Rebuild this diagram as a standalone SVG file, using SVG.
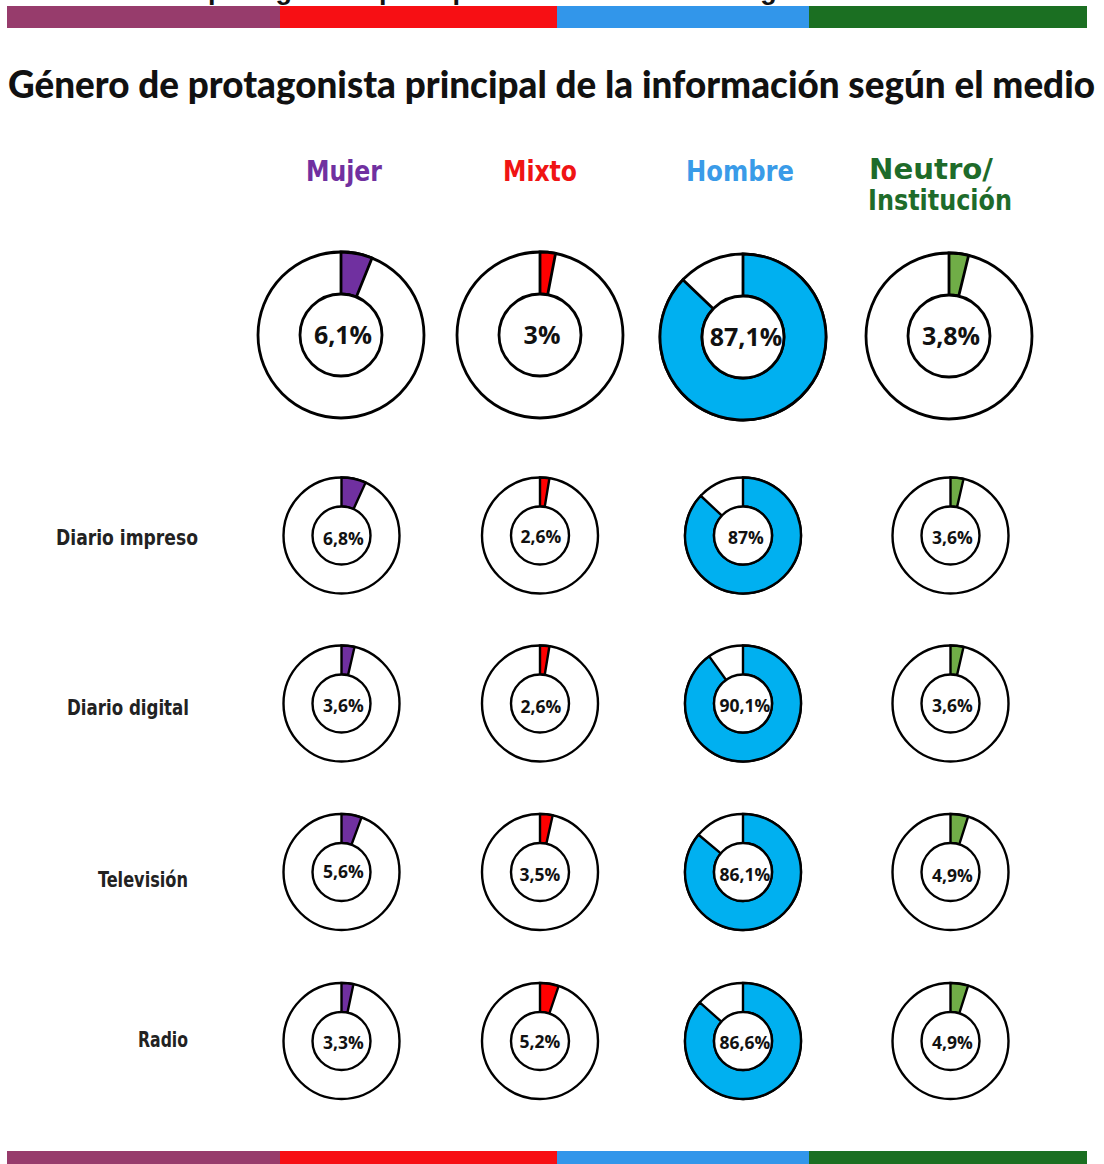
<svg xmlns="http://www.w3.org/2000/svg" width="1104" height="1164" viewBox="0 0 1104 1164">
<style>
.bg{fill:#fff}
.ring{fill:#fff;stroke:#000}
.L .ring,.L .w{stroke-width:2.8}
.S .ring,.S .w{stroke-width:2.4}
.w{stroke:#000;stroke-linejoin:miter}
.wm{fill:#7030A0}
.wx{fill:#FF0000}
.wh{fill:#00B0F0}
.wn{fill:#70AD47}
.pct{font-family:"Open Sans","Liberation Sans",sans-serif;font-weight:700;text-anchor:middle;fill:#111}
.L .pct{font-size:25px}
.S .pct{font-size:17.5px}
.hdr{font-family:"Liberation Sans Narrow","DejaVu Sans Condensed","Liberation Sans",sans-serif;font-weight:700;font-size:28px}
.row{font-family:"DejaVu Sans Condensed","Liberation Sans Narrow","Liberation Sans",sans-serif;font-weight:700;font-size:21px;fill:#222}
.title{font-family:Lato,"Noto Sans","Liberation Sans",sans-serif;font-weight:900;font-size:37px;fill:#111}
.cut{font-family:"Liberation Sans",Arial,sans-serif;font-weight:700;font-size:27px;fill:#111}
</style>
<rect class="bg" x="0" y="0" width="1104" height="1164"/>

<g id="top-cut-title">
<text class="cut" x="67" y="-1.5">Género de protagonista principal de la información según el medio</text>
</g>

<g id="top-bar">
<rect x="7" y="6" width="274" height="22" fill="#973C6C"/>
<rect x="280" y="6" width="278" height="22" fill="#F70F14"/>
<rect x="557" y="6" width="253" height="22" fill="#3296EA"/>
<rect x="809" y="6" width="278" height="22" fill="#1B6F22"/>
</g>

<g id="title">
<text class="title" x="8" y="98" textLength="1087" lengthAdjust="spacingAndGlyphs">Género de protagonista principal de la información según el medio</text>
</g>

<g id="headers">
<text class="hdr" x="306" y="181" fill="#7030A0" textLength="76" lengthAdjust="spacingAndGlyphs">Mujer</text>
<text class="hdr" x="503" y="181" fill="#F01414" textLength="74" lengthAdjust="spacingAndGlyphs">Mixto</text>
<text class="hdr" x="686" y="181" fill="#3A9BE8" textLength="108" lengthAdjust="spacingAndGlyphs">Hombre</text>
<text class="hdr" x="869" y="179" fill="#1E6B2A" textLength="124" lengthAdjust="spacingAndGlyphs">Neutro/</text>
<text class="hdr" x="868" y="210" fill="#1E6B2A" textLength="144" lengthAdjust="spacingAndGlyphs">Institución</text>
</g>

<g id="row-labels">
<text class="row" x="56" y="545" textLength="142" lengthAdjust="spacingAndGlyphs">Diario impreso</text>
<text class="row" x="67" y="715" textLength="122" lengthAdjust="spacingAndGlyphs">Diario digital</text>
<text class="row" x="98" y="887" textLength="90" lengthAdjust="spacingAndGlyphs">Televisión</text>
<text class="row" x="138" y="1047" textLength="50" lengthAdjust="spacingAndGlyphs">Radio</text>
</g>

<g id="connectors"></g>

<!-- Total row (large) -->
<g id="total-mujer" class="L" transform="translate(341,335)">
<circle class="ring" r="83"/>
<path class="w wm" d="M0,-83 A83,83 0 0 1 31.04,-76.97 L15.33,-38.02 A41,41 0 0 0 0,-41 Z"/>
<circle class="ring" r="41"/>
<text class="pct" x="2" y="9">6,1%</text>
</g>
<g id="total-mixto" class="L" transform="translate(540,335)">
<circle class="ring" r="83"/>
<path class="w wx" d="M0,-83 A83,83 0 0 1 15.55,-81.53 L7.68,-40.27 A41,41 0 0 0 0,-41 Z"/>
<circle class="ring" r="41"/>
<text class="pct" x="2" y="9">3%</text>
</g>
<g id="total-hombre" class="L" transform="translate(743,337)">
<circle class="ring" r="83"/>
<path class="w wh" d="M0,-83 A83,83 0 1 1 -60.12,-57.23 L-29.70,-28.27 A41,41 0 1 0 0,-41 Z"/>
<circle class="ring" r="41"/>
<text class="pct" x="3" y="9">87,1%</text>
</g>
<g id="total-neutro" class="L" transform="translate(949,336)">
<circle class="ring" r="83"/>
<path class="w wn" d="M0,-83 A83,83 0 0 1 19.63,-80.64 L9.70,-39.84 A41,41 0 0 0 0,-41 Z"/>
<circle class="ring" r="41"/>
<text class="pct" x="2" y="9">3,8%</text>
</g>

<!-- Diario impreso -->
<g id="impreso-mujer" class="S" transform="translate(341.5,535.5)">
<circle class="ring" r="58"/>
<path class="w wm" d="M0,-58 A58,58 0 0 1 24.04,-52.79 L12.02,-26.39 A29,29 0 0 0 0,-29 Z"/>
<circle class="ring" r="29"/>
<text class="pct" x="2" y="9">6,8%</text>
</g>
<g id="impreso-mixto" class="S" transform="translate(540,535.5)">
<circle class="ring" r="58"/>
<path class="w wx" d="M0,-58 A58,58 0 0 1 9.43,-57.23 L4.72,-28.61 A29,29 0 0 0 0,-29 Z"/>
<circle class="ring" r="29"/>
<text class="pct" x="1" y="7">2,6%</text>
</g>
<g id="impreso-hombre" class="S" transform="translate(743,535.5)">
<circle class="ring" r="58"/>
<path class="w wh" d="M0,-58 A58,58 0 1 1 -42.28,-39.70 L-21.14,-19.85 A29,29 0 1 0 0,-29 Z"/>
<circle class="ring" r="29"/>
<text class="pct" x="3" y="8">87%</text>
</g>
<g id="impreso-neutro" class="S" transform="translate(950.5,535.5)">
<circle class="ring" r="58"/>
<path class="w wn" d="M0,-58 A58,58 0 0 1 13.01,-56.52 L6.50,-28.26 A29,29 0 0 0 0,-29 Z"/>
<circle class="ring" r="29"/>
<text class="pct" x="2" y="8">3,6%</text>
</g>

<!-- Diario digital -->
<g id="digital-mujer" class="S" transform="translate(341.5,703.5)">
<circle class="ring" r="58"/>
<path class="w wm" d="M0,-58 A58,58 0 0 1 13.01,-56.52 L6.50,-28.26 A29,29 0 0 0 0,-29 Z"/>
<circle class="ring" r="29"/>
<text class="pct" x="2" y="8">3,6%</text>
</g>
<g id="digital-mixto" class="S" transform="translate(540,703.5)">
<circle class="ring" r="58"/>
<path class="w wx" d="M0,-58 A58,58 0 0 1 9.43,-57.23 L4.72,-28.61 A29,29 0 0 0 0,-29 Z"/>
<circle class="ring" r="29"/>
<text class="pct" x="1" y="9">2,6%</text>
</g>
<g id="digital-hombre" class="S" transform="translate(743,703.5)">
<circle class="ring" r="58"/>
<path class="w wh" d="M0,-58 A58,58 0 1 1 -33.80,-47.13 L-16.90,-23.57 A29,29 0 1 0 0,-29 Z"/>
<circle class="ring" r="29"/>
<text class="pct" x="2" y="8">90,1%</text>
</g>
<g id="digital-neutro" class="S" transform="translate(950.5,703.5)">
<circle class="ring" r="58"/>
<path class="w wn" d="M0,-58 A58,58 0 0 1 13.01,-56.52 L6.50,-28.26 A29,29 0 0 0 0,-29 Z"/>
<circle class="ring" r="29"/>
<text class="pct" x="2" y="8">3,6%</text>
</g>

<!-- Televisión -->
<g id="tv-mujer" class="S" transform="translate(341.5,872)">
<circle class="ring" r="58"/>
<path class="w wm" d="M0,-58 A58,58 0 0 1 19.99,-54.44 L10.00,-27.22 A29,29 0 0 0 0,-29 Z"/>
<circle class="ring" r="29"/>
<text class="pct" x="2" y="6">5,6%</text>
</g>
<g id="tv-mixto" class="S" transform="translate(540,872)">
<circle class="ring" r="58"/>
<path class="w wx" d="M0,-58 A58,58 0 0 1 12.65,-56.60 L6.32,-28.30 A29,29 0 0 0 0,-29 Z"/>
<circle class="ring" r="29"/>
<text class="pct" x="0" y="9">3,5%</text>
</g>
<g id="tv-hombre" class="S" transform="translate(743,872)">
<circle class="ring" r="58"/>
<path class="w wh" d="M0,-58 A58,58 0 1 1 -44.46,-37.27 L-22.23,-18.63 A29,29 0 1 0 0,-29 Z"/>
<circle class="ring" r="29"/>
<text class="pct" x="2" y="9">86,1%</text>
</g>
<g id="tv-neutro" class="S" transform="translate(950.5,872)">
<circle class="ring" r="58"/>
<path class="w wn" d="M0,-58 A58,58 0 0 1 17.57,-55.27 L8.79,-27.64 A29,29 0 0 0 0,-29 Z"/>
<circle class="ring" r="29"/>
<text class="pct" x="2" y="10">4,9%</text>
</g>

<!-- Radio -->
<g id="radio-mujer" class="S" transform="translate(341.5,1041)">
<circle class="ring" r="58"/>
<path class="w wm" d="M0,-58 A58,58 0 0 1 11.94,-56.76 L5.97,-28.38 A29,29 0 0 0 0,-29 Z"/>
<circle class="ring" r="29"/>
<text class="pct" x="2" y="8">3,3%</text>
</g>
<g id="radio-mixto" class="S" transform="translate(540,1041)">
<circle class="ring" r="58"/>
<path class="w wx" d="M0,-58 A58,58 0 0 1 18.62,-54.93 L9.31,-27.47 A29,29 0 0 0 0,-29 Z"/>
<circle class="ring" r="29"/>
<text class="pct" x="0" y="7">5,2%</text>
</g>
<g id="radio-hombre" class="S" transform="translate(743,1041)">
<circle class="ring" r="58"/>
<path class="w wh" d="M0,-58 A58,58 0 1 1 -43.26,-38.63 L-21.63,-19.32 A29,29 0 1 0 0,-29 Z"/>
<circle class="ring" r="29"/>
<text class="pct" x="2" y="8">86,6%</text>
</g>
<g id="radio-neutro" class="S" transform="translate(950.5,1041)">
<circle class="ring" r="58"/>
<path class="w wn" d="M0,-58 A58,58 0 0 1 17.57,-55.27 L8.79,-27.64 A29,29 0 0 0 0,-29 Z"/>
<circle class="ring" r="29"/>
<text class="pct" x="2" y="8">4,9%</text>
</g>

<g id="bottom-bar">
<rect x="7" y="1151" width="274" height="13" fill="#973C6C"/>
<rect x="280" y="1151" width="278" height="13" fill="#F70F14"/>
<rect x="557" y="1151" width="253" height="13" fill="#3296EA"/>
<rect x="809" y="1151" width="278" height="13" fill="#1B6F22"/>
</g>
</svg>
